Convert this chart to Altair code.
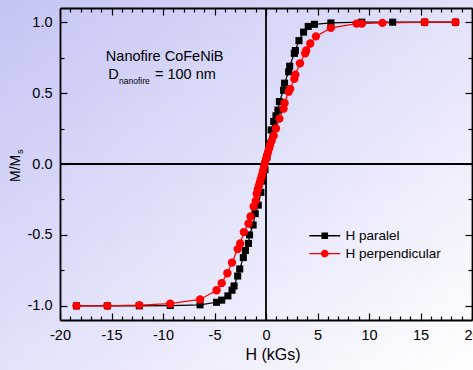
import altair as alt
import pandas as pd

# ---------------- data ----------------
SERIES = ["H paralel", "H perpendicular"]
COLORS = ["#000000", "#ff0000"]

H_PAR = [-18.4, -15.4, -12.3, -9.3, -6.4, -4.8, -4.3, -3.7, -3.3, -3.1, -2.75, -2.55,
         -2.2, -2.0, -1.7, -1.6, -1.25, -1.05, -0.75, -0.5, -0.3, -0.1,
         0.1, 0.25, 0.5, 0.75, 0.97, 1.16, 1.3, 1.7, 1.8, 2.2, 2.3, 2.75, 2.85,
         3.2, 3.65, 4.1, 4.7, 6.3, 9.3, 12.3, 15.4, 18.4]
M_PAR = [-1.0, -1.0, -1.0, -0.998, -0.993, -0.975, -0.96, -0.93, -0.89, -0.86, -0.79, -0.74,
         -0.66, -0.61, -0.56, -0.50, -0.43, -0.35, -0.29, -0.20, -0.12, -0.04,
         0.05, 0.14, 0.24, 0.30, 0.34, 0.38, 0.44, 0.52, 0.57, 0.65, 0.69, 0.78, 0.80,
         0.87, 0.93, 0.97, 0.985, 0.995, 1.0, 1.0, 1.0, 1.0]

H_PERP = [-18.4, -15.4, -12.3, -9.3, -6.4, -4.8, -4.3, -3.75, -3.3, -2.75, -2.5, -2.15,
          -1.7, -1.5, -1.2, -1.0, -0.9, -0.8, -0.7, -0.6, -0.5, -0.4, -0.3, -0.2, -0.1,
          0.0, 0.1, 0.2, 0.3, 0.4, 0.55, 0.75, 0.97, 1.3, 1.7, 1.8, 2.2, 2.35, 2.75, 2.85,
          3.3, 3.8, 3.9, 4.3, 4.85, 6.3, 8.8, 9.3, 11.3, 15.4, 18.4]
M_PERP = [-1.0, -1.0, -0.995, -0.985, -0.955, -0.89, -0.84, -0.77, -0.695, -0.60, -0.56, -0.48,
          -0.42, -0.37, -0.30, -0.26, -0.21, -0.18, -0.155, -0.13, -0.105, -0.08, -0.05, -0.02, 0.01,
          0.035, 0.06, 0.085, 0.11, 0.135, 0.165, 0.20, 0.25, 0.32, 0.39, 0.43, 0.51, 0.53, 0.60, 0.63,
          0.71, 0.78, 0.80, 0.85, 0.90, 0.96, 0.99, 0.99, 0.995, 1.0, 1.0]

X_TICKS = list(range(-20, 21))
Y_TICKS = [-1.0, -0.75, -0.5, -0.25, 0.0, 0.25, 0.5, 0.75, 1.0]
ZERO = [0]

rows = []
for name, hs, ms in ((SERIES[0], H_PAR, M_PAR), (SERIES[1], H_PERP, M_PERP)):
    for i, (h, m) in enumerate(zip(hs, ms)):
        rows.append({"series": name, "H": h, "M": m, "idx": i})
df = pd.DataFrame(rows)
zdf = pd.DataFrame({"zero": ZERO})

# ---------------- style ----------------
FONT = "Liberation Sans"
W, HGT = 412, 312
xs = alt.Scale(domain=[-20, 20], nice=False, zero=False)
ys = alt.Scale(domain=[-1.1, 1.1], nice=False, zero=False)
cscale = alt.Scale(domain=SERIES, range=COLORS)

X_MINOR = "abs(datum.value % 5) > 0.001"
Y_MINOR = "abs(datum.value % 0.5) > 0.001"


def side_axis(orient, values, minor_test, label_expr=None, **kw):
    opts = dict(
        orient=orient, values=values, grid=False,
        domain=True, domainColor="black", domainWidth=1.8,
        ticks=True, tickColor="black", tickWidth=1.2,
        tickSize={"expr": "-7"},
        tickDash={"condition": {"test": minor_test, "value": [4, 20]}, "value": [7, 0]},
        zindex=1,
    )
    if label_expr is None:
        opts.update(labels=False, title=None)
    else:
        opts.update(labels=True, labelExpr=label_expr, labelFont=FONT, labelFontSize=14.5,
                    labelColor="black", labelOverlap=False, labelFlush=False, labelBound=False)
    opts.update(kw)
    return alt.Axis(**opts)


x_bottom = side_axis(
    "bottom", X_TICKS, X_MINOR,
    label_expr="abs(datum.value % 5) < 0.001 ? ((datum.value < 0 ? '-' : '') + format(abs(datum.value), 'd')) : ''",
    labelPadding=15, title="H (kGs)", titleFont=FONT, titleFontSize=16, titleFontWeight="normal",
    titleColor="black", titleX=212.5, titleY=39, titleBaseline="alphabetic",
)
y_left = side_axis(
    "left", Y_TICKS, Y_MINOR,
    label_expr="abs(datum.value % 0.5) < 0.001 ? ((datum.value < -0.001 ? '-' : '') + format(abs(datum.value), '.1f')) : ''",
    labelPadding=15, title=None,
)
x_top = side_axis("top", X_TICKS, X_MINOR)
y_right = side_axis("right", Y_TICKS, Y_MINOR)

# ---------------- layers ----------------
bg = alt.Chart(alt.Data(values=[{}])).mark_rect(
    color=alt.Gradient(gradient="linear", x1=0, y1=0, x2=1, y2=1,
                       stops=[alt.GradientStop(offset=0, color="#c4c4f5"),
                              alt.GradientStop(offset=1, color="#ffffff")])
).encode(x=alt.value(-60), x2=alt.value(413), y=alt.value(-8), y2=alt.value(362))

vrule = alt.Chart(zdf).mark_rule(color="black", strokeWidth=1.8).encode(
    x=alt.X("zero:Q", scale=xs, axis=None))
hrule = alt.Chart(zdf).mark_rule(color="black", strokeWidth=1.8).encode(
    y=alt.Y("zero:Q", scale=ys, axis=None))

lines = alt.Chart(df).mark_line(strokeWidth=1.2).encode(
    x=alt.X("H:Q", scale=xs, axis=x_bottom),
    y=alt.Y("M:Q", scale=ys, axis=y_left),
    color=alt.Color("series:N", scale=cscale, legend=None),
    detail="series:N",
    order="idx:Q",
)

points = alt.Chart(df).mark_point(filled=True, opacity=1).encode(
    x=alt.X("H:Q", scale=xs, axis=None),
    y=alt.Y("M:Q", scale=ys, axis=None),
    color=alt.Color("series:N", scale=cscale, legend=None),
    shape=alt.Shape("series:N", scale=alt.Scale(domain=SERIES, range=["square", "circle"]), legend=None),
    size=alt.Size("series:N", scale=alt.Scale(domain=SERIES, range=[50, 70]), legend=None),
)

SQ_PATH = "M-2.58,-0.11H2.58V0.11H-2.58Z M-0.55,-0.55H0.55V0.55H-0.55Z"
CI_PATH = "M-2.58,-0.11H2.58V0.11H-2.58Z M-0.65,0A0.65,0.65 0 1,1 0.65,0A0.65,0.65 0 1,1 -0.65,0Z"

leg = dict(orient="none", legendX=258, legendY=221, title=None, labelFont=FONT,
           labelFontSize=13.5, labelColor="black", symbolSize=144, symbolStrokeWidth=0,
           labelOffset=14, rowPadding=2.8, padding=0)

legend_layer = alt.Chart(df).mark_point(filled=True, opacity=1, size=0).encode(
    x=alt.X("H:Q", scale=xs, axis=x_top),
    y=alt.Y("M:Q", scale=ys, axis=y_right),
    fill=alt.Fill("series:N", scale=alt.Scale(domain=SERIES, range=COLORS),
                  legend=alt.Legend(**leg)),
    shape=alt.Shape("series:N", scale=alt.Scale(domain=SERIES, range=[SQ_PATH, CI_PATH]),
                    legend=alt.Legend(**leg)),
)

one = alt.Data(values=[{}])


def txt(s, x, y, size, align="left", angle=0):
    kw = dict(text=s, font=FONT, fontSize=size, color="black", align=align, baseline="alphabetic")
    if angle:
        kw["angle"] = angle
    return alt.Chart(one).mark_text(**kw).encode(x=alt.value(x), y=alt.value(y))


notes = [
    txt("Nanofire CoFeNiB", 104.7, 53, 14.5, align="center"),
    txt("D", 48.3, 71, 14.5),
    txt("nanofire", 59, 76, 8.5),
    txt("= 100 nm", 95, 71, 14.5),
    txt("M/M", -40, 174, 14, angle=270),
    txt("s", -37.5, 146, 9.5, angle=270),
]

chart = alt.layer(bg, vrule, hrule, lines, points, legend_layer, *notes).resolve_scale(
    shape="independent", size="independent", fill="independent"
).resolve_axis(
    x="independent", y="independent"
).properties(
    width=W, height=HGT,
    autosize=alt.AutoSizeParams(type="none"),
    padding={"left": 60, "top": 8, "right": 1, "bottom": 50},
).configure_view(stroke=None)

chart.save("out.html", embed_options={"renderer": "svg", "actions": False})
